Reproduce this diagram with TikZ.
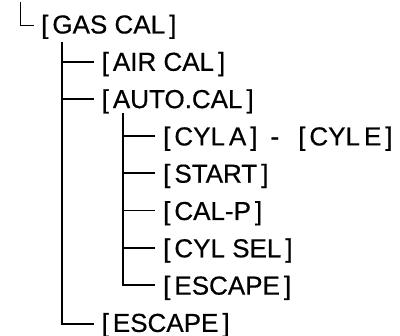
\documentclass[tikz,border=0pt]{standalone}
\usepackage{fontspec}
\setmainfont[FakeBold=0.5]{Liberation Sans}
\newcommand\brk[1]{[\kern4pt #1\kern4pt]}
\begin{document}
\begin{tikzpicture}[x=1pt,y=-1pt,
  lbl/.style={anchor=base west,inner sep=0pt,font=\fontsize{26}{30}\selectfont},
  conn/.style={line width=1.9pt,line join=miter},
  thinconn/.style={line width=1.4pt,line join=miter}]
\useasboundingbox (0,0) rectangle (400,336);
% root
\coordinate (r0) at (20.5,2);
\node[lbl] (gas) at (41,33.5) {\brk{GAS CAL}};
\draw[thinconn] (r0) |- ([xshift=-7pt,yshift=8pt]gas.base west);
% level 1
\coordinate (v1) at (62,42);
\node[lbl] (air)  at (101.5,70.8) {\brk{AIR CAL}};
\node[lbl] (auto) at (101.5,108.1) {\brk{AUTO.CAL}};
\node[lbl] (esc1) at (101.5,331.9) {\brk{ESCAPE}};
\draw[conn] (v1) |- ([xshift=-7.5pt,yshift=7.5pt]esc1.base west);
\draw[conn] ([xshift=-7.5pt,yshift=8.5pt]air.base west) -| (v1);
\draw[conn] ([xshift=-7.5pt,yshift=9pt]auto.base west) -| (v1);
% level 2
\coordinate (v2) at (123,113);
\node[lbl] (cyl)    at (163,145.4) {\brk{CYL\kern4pt A}\kern13pt-\kern19pt\brk{CYL\kern4pt E}};
\node[lbl] (start)  at (163,182.7) {\brk{START}};
\node[lbl] (calp)   at (163,220)   {\brk{CAL-P}};
\node[lbl] (cylsel) at (163,257.3) {\brk{CYL SEL}};
\node[lbl] (esc2)   at (163,294.6) {\brk{ESCAPE}};
\draw[conn] (v2) |- ([xshift=-8pt,yshift=9.5pt]esc2.base west);
\foreach \n in {cyl,start,calp,cylsel}
  \draw[conn] ([xshift=-8pt,yshift=9.5pt]\n.base west) -| (v2);
\end{tikzpicture}
\end{document}
